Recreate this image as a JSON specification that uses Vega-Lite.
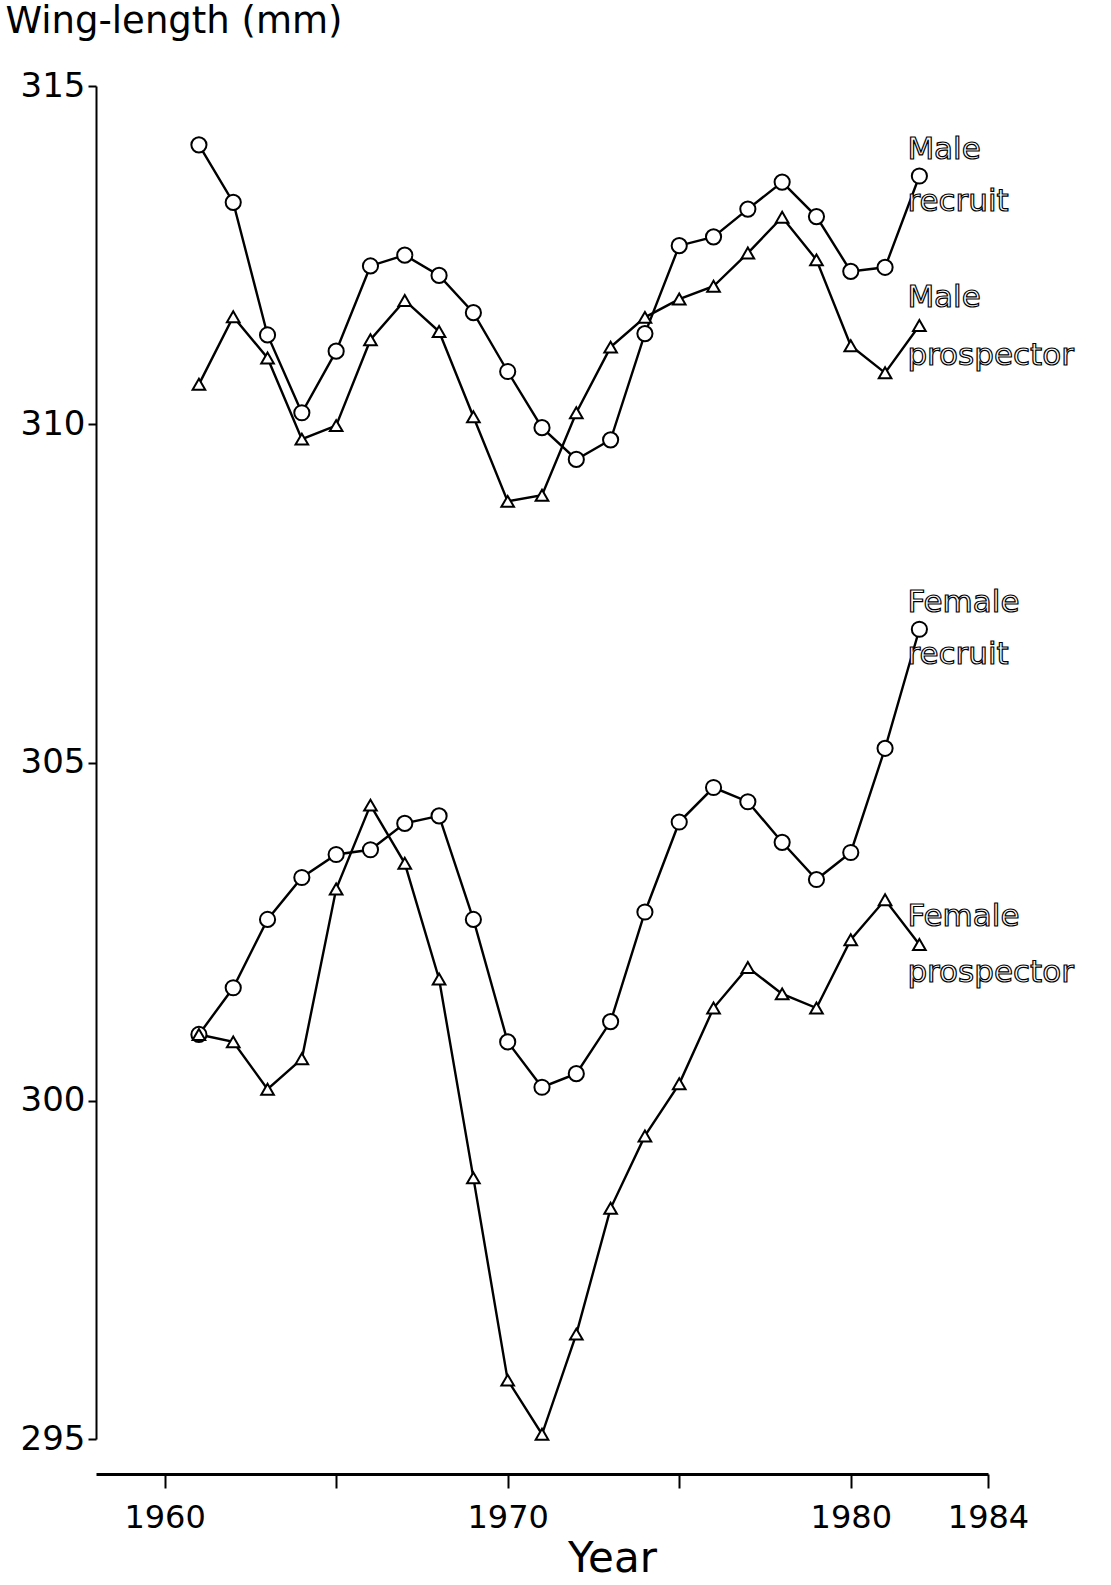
{
  "$schema": "https://vega.github.io/schema/vega-lite/v6.json",
  "width": 892,
  "height": 1353,
  "autosize": {"type": "none"},
  "padding": {"left": 96, "top": 86, "right": 123, "bottom": 146},
  "background": "white",
  "config": {"view": {"stroke": null}, "font": "DejaVu Sans"},
  "datasets": {
    "pts": [
      {"sex": "Male", "stage": "recruit", "year": 1961, "value": 314.13},
      {"sex": "Male", "stage": "recruit", "year": 1962, "value": 313.28},
      {"sex": "Male", "stage": "recruit", "year": 1963, "value": 311.32},
      {"sex": "Male", "stage": "recruit", "year": 1964, "value": 310.17},
      {"sex": "Male", "stage": "recruit", "year": 1965, "value": 311.08},
      {"sex": "Male", "stage": "recruit", "year": 1966, "value": 312.34},
      {"sex": "Male", "stage": "recruit", "year": 1967, "value": 312.5},
      {"sex": "Male", "stage": "recruit", "year": 1968, "value": 312.2},
      {"sex": "Male", "stage": "recruit", "year": 1969, "value": 311.65},
      {"sex": "Male", "stage": "recruit", "year": 1970, "value": 310.78},
      {"sex": "Male", "stage": "recruit", "year": 1971, "value": 309.95},
      {"sex": "Male", "stage": "recruit", "year": 1972, "value": 309.48},
      {"sex": "Male", "stage": "recruit", "year": 1973, "value": 309.77},
      {"sex": "Male", "stage": "recruit", "year": 1974, "value": 311.34},
      {"sex": "Male", "stage": "recruit", "year": 1975, "value": 312.64},
      {"sex": "Male", "stage": "recruit", "year": 1976, "value": 312.77},
      {"sex": "Male", "stage": "recruit", "year": 1977, "value": 313.18},
      {"sex": "Male", "stage": "recruit", "year": 1978, "value": 313.58},
      {"sex": "Male", "stage": "recruit", "year": 1979, "value": 313.07},
      {"sex": "Male", "stage": "recruit", "year": 1980, "value": 312.26},
      {"sex": "Male", "stage": "recruit", "year": 1981, "value": 312.32},
      {"sex": "Male", "stage": "recruit", "year": 1982, "value": 313.67},
      {"sex": "Male", "stage": "prospector", "year": 1961, "value": 310.59},
      {"sex": "Male", "stage": "prospector", "year": 1962, "value": 311.59},
      {"sex": "Male", "stage": "prospector", "year": 1963, "value": 310.98},
      {"sex": "Male", "stage": "prospector", "year": 1964, "value": 309.78},
      {"sex": "Male", "stage": "prospector", "year": 1965, "value": 309.98},
      {"sex": "Male", "stage": "prospector", "year": 1966, "value": 311.25},
      {"sex": "Male", "stage": "prospector", "year": 1967, "value": 311.83},
      {"sex": "Male", "stage": "prospector", "year": 1968, "value": 311.37},
      {"sex": "Male", "stage": "prospector", "year": 1969, "value": 310.11},
      {"sex": "Male", "stage": "prospector", "year": 1970, "value": 308.86},
      {"sex": "Male", "stage": "prospector", "year": 1971, "value": 308.95},
      {"sex": "Male", "stage": "prospector", "year": 1972, "value": 310.17},
      {"sex": "Male", "stage": "prospector", "year": 1973, "value": 311.14},
      {"sex": "Male", "stage": "prospector", "year": 1974, "value": 311.58},
      {"sex": "Male", "stage": "prospector", "year": 1975, "value": 311.85},
      {"sex": "Male", "stage": "prospector", "year": 1976, "value": 312.04},
      {"sex": "Male", "stage": "prospector", "year": 1977, "value": 312.53},
      {"sex": "Male", "stage": "prospector", "year": 1978, "value": 313.06},
      {"sex": "Male", "stage": "prospector", "year": 1979, "value": 312.43},
      {"sex": "Male", "stage": "prospector", "year": 1980, "value": 311.16},
      {"sex": "Male", "stage": "prospector", "year": 1981, "value": 310.76},
      {"sex": "Male", "stage": "prospector", "year": 1982, "value": 311.46},
      {"sex": "Female", "stage": "recruit", "year": 1961, "value": 300.98},
      {"sex": "Female", "stage": "recruit", "year": 1962, "value": 301.67},
      {"sex": "Female", "stage": "recruit", "year": 1963, "value": 302.68},
      {"sex": "Female", "stage": "recruit", "year": 1964, "value": 303.3},
      {"sex": "Female", "stage": "recruit", "year": 1965, "value": 303.64},
      {"sex": "Female", "stage": "recruit", "year": 1966, "value": 303.71},
      {"sex": "Female", "stage": "recruit", "year": 1967, "value": 304.1},
      {"sex": "Female", "stage": "recruit", "year": 1968, "value": 304.21},
      {"sex": "Female", "stage": "recruit", "year": 1969, "value": 302.68},
      {"sex": "Female", "stage": "recruit", "year": 1970, "value": 300.87},
      {"sex": "Female", "stage": "recruit", "year": 1971, "value": 300.2},
      {"sex": "Female", "stage": "recruit", "year": 1972, "value": 300.4},
      {"sex": "Female", "stage": "recruit", "year": 1973, "value": 301.17},
      {"sex": "Female", "stage": "recruit", "year": 1974, "value": 302.79},
      {"sex": "Female", "stage": "recruit", "year": 1975, "value": 304.12},
      {"sex": "Female", "stage": "recruit", "year": 1976, "value": 304.63},
      {"sex": "Female", "stage": "recruit", "year": 1977, "value": 304.42},
      {"sex": "Female", "stage": "recruit", "year": 1978, "value": 303.82},
      {"sex": "Female", "stage": "recruit", "year": 1979, "value": 303.27},
      {"sex": "Female", "stage": "recruit", "year": 1980, "value": 303.67},
      {"sex": "Female", "stage": "recruit", "year": 1981, "value": 305.21},
      {"sex": "Female", "stage": "recruit", "year": 1982, "value": 306.97},
      {"sex": "Female", "stage": "prospector", "year": 1961, "value": 300.98},
      {"sex": "Female", "stage": "prospector", "year": 1962, "value": 300.87},
      {"sex": "Female", "stage": "prospector", "year": 1963, "value": 300.17},
      {"sex": "Female", "stage": "prospector", "year": 1964, "value": 300.62},
      {"sex": "Female", "stage": "prospector", "year": 1965, "value": 303.13},
      {"sex": "Female", "stage": "prospector", "year": 1966, "value": 304.37},
      {"sex": "Female", "stage": "prospector", "year": 1967, "value": 303.51},
      {"sex": "Female", "stage": "prospector", "year": 1968, "value": 301.8},
      {"sex": "Female", "stage": "prospector", "year": 1969, "value": 298.86},
      {"sex": "Female", "stage": "prospector", "year": 1970, "value": 295.87},
      {"sex": "Female", "stage": "prospector", "year": 1971, "value": 295.07},
      {"sex": "Female", "stage": "prospector", "year": 1972, "value": 296.55},
      {"sex": "Female", "stage": "prospector", "year": 1973, "value": 298.41},
      {"sex": "Female", "stage": "prospector", "year": 1974, "value": 299.48},
      {"sex": "Female", "stage": "prospector", "year": 1975, "value": 300.25},
      {"sex": "Female", "stage": "prospector", "year": 1976, "value": 301.37},
      {"sex": "Female", "stage": "prospector", "year": 1977, "value": 301.97},
      {"sex": "Female", "stage": "prospector", "year": 1978, "value": 301.58},
      {"sex": "Female", "stage": "prospector", "year": 1979, "value": 301.37},
      {"sex": "Female", "stage": "prospector", "year": 1980, "value": 302.38},
      {"sex": "Female", "stage": "prospector", "year": 1981, "value": 302.97},
      {"sex": "Female", "stage": "prospector", "year": 1982, "value": 302.31}
    ],
    "labels": [
      {"label": "Male", "year": 1981.65, "value": 314.06},
      {"label": "recruit", "year": 1981.65, "value": 313.28},
      {"label": "Male", "year": 1981.65, "value": 311.86},
      {"label": "prospector", "year": 1981.65, "value": 311.01},
      {"label": "Female", "year": 1981.65, "value": 307.36},
      {"label": "recruit", "year": 1981.65, "value": 306.59},
      {"label": "Female", "year": 1981.65, "value": 302.72},
      {"label": "prospector", "year": 1981.65, "value": 301.89}
    ]
  },
  "layer": [
    {
      "data": {"name": "pts"},
      "mark": {"type": "line", "color": "black", "strokeWidth": 2.4},
      "encoding": {
        "x": {
          "field": "year", "type": "quantitative",
          "scale": {"domain": [1958, 1984], "nice": false, "zero": false},
          "axis": {
            "values": [1960, 1965, 1970, 1975, 1980, 1984],
            "format": "d",
            "labelExpr": "datum.value == 1965 || datum.value == 1975 ? '' : datum.label",
            "grid": false,
            "offset": 35,
            "domainColor": "black", "domainWidth": 3,
            "tickColor": "black", "tickWidth": 2, "tickSize": 14,
            "labelColor": "black", "labelFontSize": 32, "labelPadding": 14, "labelFont": "DejaVu Sans",
            "labelOverlap": false, "labelFlush": false,
            "title": "Year",
            "titleFontSize": 42, "titleFontWeight": "normal", "titleColor": "black", "titleFont": "DejaVu Sans",
            "titleX": 516, "titleY": 97, "titleBaseline": "alphabetic", "titleAlign": "center"
          }
        },
        "y": {
          "field": "value", "type": "quantitative",
          "scale": {"domain": [295, 315], "nice": false, "zero": false},
          "axis": {
            "values": [295, 300, 305, 310, 315],
            "format": "d",
            "grid": false,
            "domainColor": "black", "domainWidth": 2,
            "tickColor": "black", "tickWidth": 2, "tickSize": 8,
            "labelColor": "black", "labelFontSize": 34, "labelPadding": 3, "labelFont": "DejaVu Sans",
            "labelFlush": false,
            "title": "Wing-length (mm)",
            "titleAngle": 0, "titleAlign": "left", "titleBaseline": "top",
            "titleX": -91, "titleY": -83,
            "titleFontSize": 37, "titleFontWeight": "normal", "titleColor": "black", "titleFont": "DejaVu Sans"
          }
        },
        "detail": [{"field": "sex"}, {"field": "stage"}]
      }
    },
    {
      "data": {"name": "pts"},
      "mark": {"type": "point", "filled": true, "fill": "white", "stroke": "black", "strokeWidth": 2, "opacity": 1},
      "encoding": {
        "x": {"field": "year", "type": "quantitative"},
        "y": {"field": "value", "type": "quantitative"},
        "shape": {"field": "stage", "type": "nominal", "scale": {"domain": ["recruit", "prospector"], "range": ["circle", "triangle-up"]}, "legend": null},
        "size": {"field": "stage", "type": "nominal", "scale": {"domain": ["recruit", "prospector"], "range": [230, 160]}, "legend": null}
      }
    },
    {
      "data": {"name": "labels"},
      "mark": {"type": "text", "align": "left", "baseline": "middle", "fontSize": 31, "font": "DejaVu Sans", "fill": "white", "stroke": "black", "strokeWidth": 1.2},
      "encoding": {
        "x": {"field": "year", "type": "quantitative"},
        "y": {"field": "value", "type": "quantitative"},
        "text": {"field": "label"}
      }
    }
  ]
}
